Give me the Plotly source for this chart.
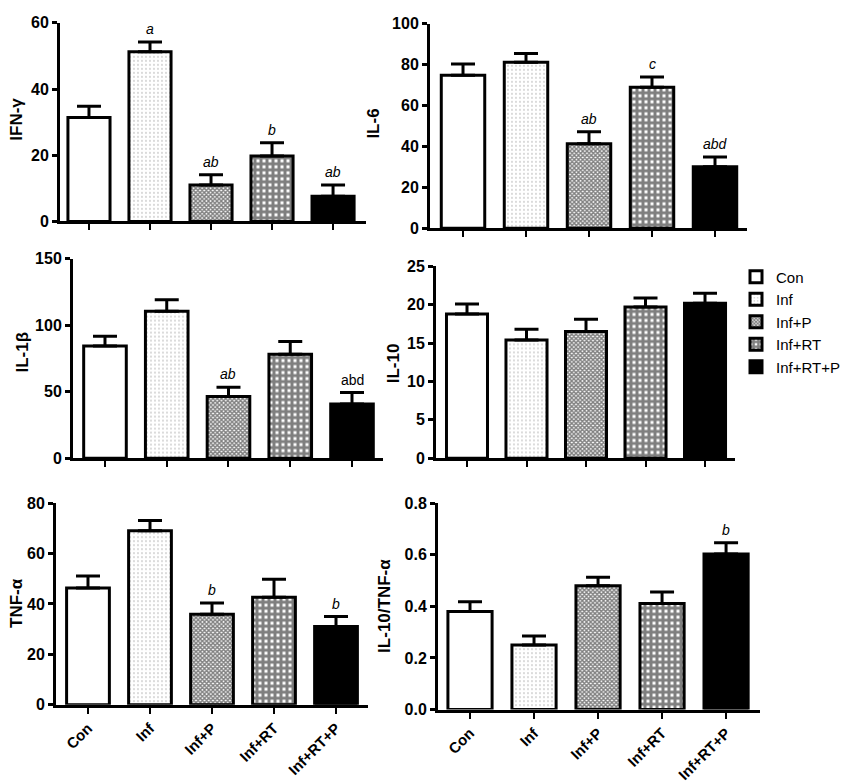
import plotly.graph_objects as go

W = 851
H = 782

groups = ["Con", "Inf", "Inf+P", "Inf+RT", "Inf+RT+P"]

# means and upper SEM
ifn_mean = [31.4, 51.3, 11.0, 19.8, 7.6]
ifn_err = [3.4, 2.9, 3.1, 4.0, 3.4]
ifn_sig = ["", "<i>a</i>", "<i>ab</i>", "<i>b</i>", "<i>ab</i>"]

il6_mean = [74.8, 81.2, 41.3, 69.0, 30.1]
il6_err = [5.6, 4.3, 5.9, 5.0, 4.8]
il6_sig = ["", "", "<i>ab</i>", "<i>c</i>", "<i>abd</i>"]

il1b_mean = [84.3, 110.5, 46.3, 78.2, 40.7]
il1b_err = [7.4, 8.5, 7.1, 9.5, 8.6]
il1b_sig = ["", "", "<i>ab</i>", "", "abd"]

il10_mean = [18.8, 15.4, 16.5, 19.7, 20.2]
il10_err = [1.3, 1.4, 1.6, 1.2, 1.3]
il10_sig = ["", "", "", "", ""]

tnf_mean = [46.3, 69.1, 35.9, 42.7, 31.0]
tnf_err = [4.8, 4.0, 4.5, 7.1, 4.0]
tnf_sig = ["", "", "<i>b</i>", "", "<i>b</i>"]

ratio_mean = [0.380, 0.250, 0.480, 0.411, 0.603]
ratio_err = [0.038, 0.035, 0.033, 0.045, 0.044]
ratio_sig = ["", "", "", "", "<i>b</i>"]

# fill style of each group
styles = [
    dict(color="white"),
    dict(color="white", pattern=dict(shape=".", fgcolor="#444", bgcolor="white", size=4, solidity=0.1)),
    dict(color="white", pattern=dict(shape="x", fgcolor="black", bgcolor="white", size=3, solidity=0.7)),
    dict(color="white", pattern=dict(shape="+", fgcolor="black", bgcolor="white", size=6, solidity=0.75)),
    dict(color="black"),
]

# panel boxes in pixels: axis x-start, x-end, y-top, y-bottom, category range
panels = [
    dict(title="IFN-γ", mean=ifn_mean, err=ifn_err, sig=ifn_sig, ymax=60, dtick=20, fmt="d",
         x0=52, x1=358, y0=7, y1=210, xr=[-0.475, 4.54], tx=9, ty=106),
    dict(title="IL-6", mean=il6_mean, err=il6_err, sig=il6_sig, ymax=100, dtick=20, fmt="d",
         x0=422, x1=739, y0=8, y1=217, xr=[-0.524, 4.508], tx=366, ty=110),
    dict(title="IL-1β", mean=il1b_mean, err=il1b_err, sig=il1b_sig, ymax=150, dtick=50, fmt="d",
         x0=65, x1=375, y0=248, y1=452, xr=[-0.518, 4.502], tx=15, ty=344),
    dict(title="IL-10", mean=il10_mean, err=il10_err, sig=il10_sig, ymax=25, dtick=5, fmt="d",
         x0=428, x1=727, y0=256, y1=452, xr=[-0.521, 4.504], tx=385, ty=355),
    dict(title="TNF-α", mean=tnf_mean, err=tnf_err, sig=tnf_sig, ymax=80, dtick=20, fmt="d",
         x0=48, x1=360, y0=498, y1=704, xr=[-0.516, 4.516], tx=9, ty=600),
    dict(title="IL-10/TNF-α", mean=ratio_mean, err=ratio_err, sig=ratio_sig, ymax=0.8, dtick=0.2, fmt=".1f",
         x0=430, x1=752, y0=498, y1=709, xr=[-0.5, 4.53], tx=377, ty=603),
]

FONT = "Liberation Sans, Arial, sans-serif"

fig = go.Figure()
annotations = []

for k, p in enumerate(panels):
    n = "" if k == 0 else str(k + 1)
    xa = "x" + n
    ya = "y" + n
    for i, g in enumerate(groups):
        fig.add_trace(go.Bar(
            x=[g], y=[p["mean"][i]], name=g, xaxis=xa, yaxis=ya,
            width=0.69,
            marker=dict(line=dict(color="black", width=3), **styles[i]),
            error_y=dict(type="data", array=[p["err"][i]], arrayminus=[0], symmetric=False,
                         color="black", thickness=3, width=12),
            showlegend=(k == 3), legendgroup=g,
        ))
        if p["sig"][i]:
            annotations.append(dict(
                x=g, y=p["mean"][i] + p["err"][i], xref=xa, yref=ya, text=p["sig"][i],
                showarrow=False, yanchor="bottom", yshift=3,
                font=dict(family=FONT, size=14, color="black"),
            ))
    annotations.append(dict(
        x=p["tx"] / W, y=1 - p["ty"] / H, xref="paper", yref="paper", text="<b>%s</b>" % p["title"],
        textangle=-90, showarrow=False, xanchor="center", yanchor="middle",
        font=dict(family=FONT, size=17, color="black"),
    ))
    bottom = k >= 4
    fig.layout["xaxis" + n] = dict(
        domain=[p["x0"] / W, p["x1"] / W], anchor=ya, type="category",
        categoryorder="array", categoryarray=groups, range=p["xr"],
        showline=True, linecolor="black", linewidth=3, showgrid=False, zeroline=False,
        ticks="outside", ticklen=6, tickwidth=2, tickcolor="black",
        showticklabels=bottom, tickangle=-45,
        tickfont=dict(family=FONT, size=15, color="black", weight="bold"),
    )
    fig.layout["yaxis" + n] = dict(
        domain=[1 - p["y1"] / H, 1 - p["y0"] / H], anchor=xa, range=[0, p["ymax"]],
        dtick=p["dtick"], tick0=0, tickformat=p["fmt"],
        showline=True, linecolor="black", linewidth=3, showgrid=False, zeroline=False,
        ticks="outside", ticklen=5, tickwidth=2.5, tickcolor="black",
        tickfont=dict(family=FONT, size=16, color="black", weight="bold"),
    )

fig.update_layout(
    width=W, height=H,
    margin=dict(l=0, r=0, t=0, b=0),
    paper_bgcolor="white", plot_bgcolor="white",
    barmode="overlay",
    annotations=annotations,
    legend=dict(x=728 / W, y=1 - 250 / H, xanchor="left", yanchor="top",
                font=dict(family=FONT, size=15, color="black"),
                bgcolor="rgba(0,0,0,0)", tracegroupgap=0, itemwidth=30),
)

fig.write_html("out.html")
